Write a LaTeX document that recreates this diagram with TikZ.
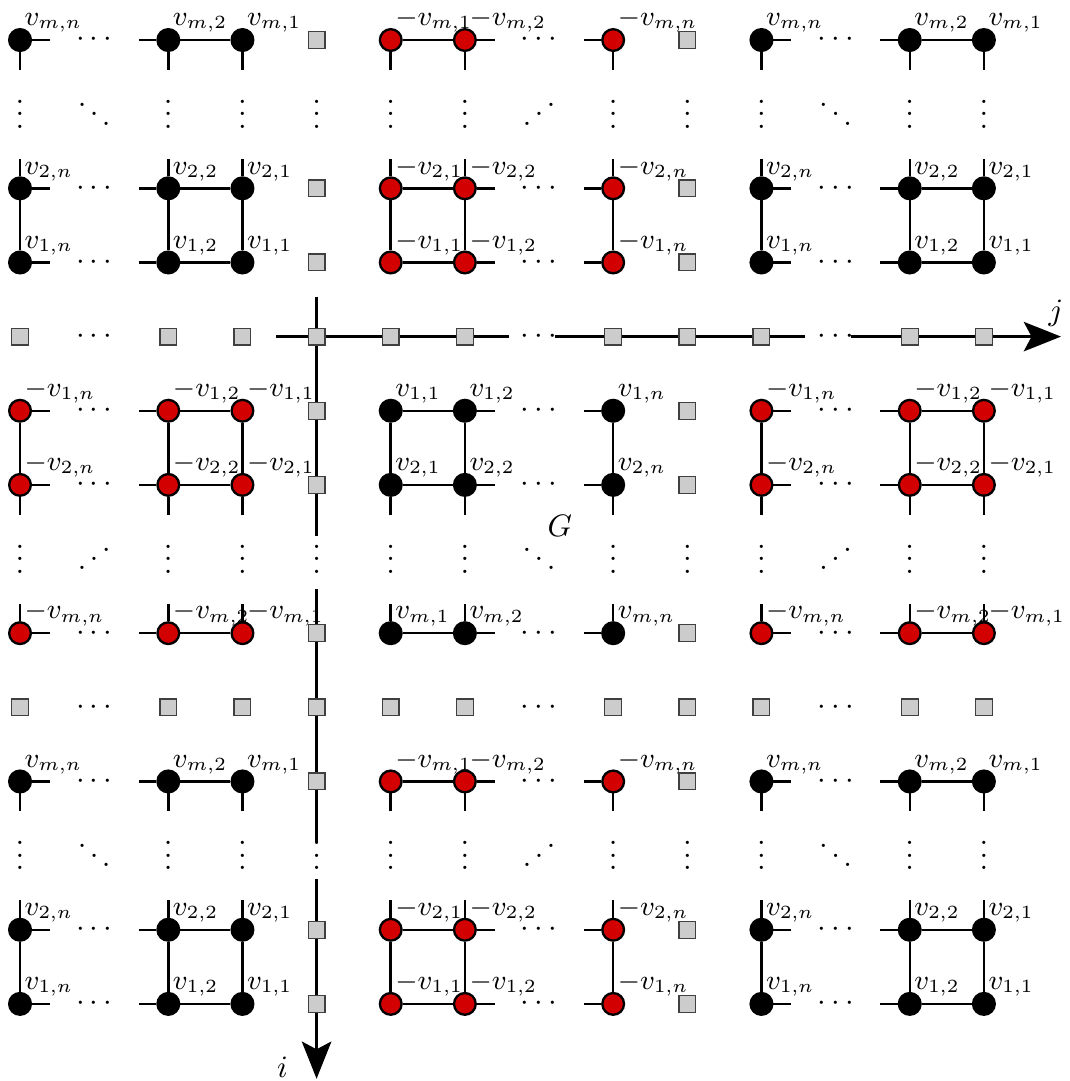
\documentclass[tikz,border=0pt]{standalone}
\usepackage{tikz}
\usepackage{graphicx}
\usetikzlibrary{arrows.meta,backgrounds}
\definecolor{negred}{RGB}{210,0,0}
\definecolor{sqgray}{RGB}{204,204,204}
\newcommand{\updots}{\reflectbox{$\ddots$}}

\begin{document}
\begin{tikzpicture}[x=0.84cm, y=-0.84cm,
    vtx/.style={circle, draw=black, line width=0.75pt, minimum size=7pt, inner sep=0pt},
    posv/.style={vtx, fill=black},
    negv/.style={vtx, fill=negred},
    sq/.style={rectangle, draw=black!75, fill=sqgray, line width=0.4pt, minimum size=5.4pt, inner sep=0pt},
    link/.style={line width=0.8pt},
    axis/.style={line width=0.8pt},
    vlab/.style={anchor=base west, inner sep=0pt, font=\small, xshift=1.3pt, yshift=4.6pt},
    dts/.style={inner sep=0pt},
    vdts/.style={inner sep=0pt, yshift=3pt}]

\useasboundingbox (-0.27,-0.54) rectangle (14.16,14.04);

% squares on the two sign lines
\foreach \c in {4,9}
  \foreach \r in {0,2,3,4,5,6,8,9,10,12,13}
    \node[sq] (s-\c-\r) at (\c,\r) {};
\foreach \r in {4,9}
  \foreach \c in {0,2,3,5,6,8,10,12,13}
    \node[sq] (s-\c-\r) at (\c,\r) {};
\foreach \c in {4,9}
  \foreach \r in {1,7,11}
    \node[vdts] (d-\c-\r) at (\c,\r) {$\vdots$};
\foreach \r in {4,9}
  \foreach \c in {1,7,11}
    \node[dts] (d-\c-\r) at (\c,\r) {$\cdots$};

% nine mirrored copies of the grid
\foreach \ox/\sx in {3/-1,5/1,13/-1}{
  \foreach \oy/\sy in {3/-1,5/1,13/-1}{
    \pgfmathtruncatemacro{\sgn}{\sx*\sy}
    \ifnum\sgn<0 \def\vst{negv}\def\mns{-}\else \def\vst{posv}\def\mns{}\fi
    \foreach \a/\da in {1/0,2/1,n/3}{
      \foreach \b/\db in {1/0,2/1,m/3}{
        \node[\vst] (v-\ox-\oy-\a-\b) at ({\ox+\sx*\da},{\oy+\sy*\db}) {};
        \node[vlab] (l-\ox-\oy-\a-\b) at (v-\ox-\oy-\a-\b) {$\mns v_{\b,\a}$};
      }
    }
    \foreach \b/\db in {1/0,2/1,m/3}
      \node[dts] (h-\ox-\oy-\b) at ({\ox+2*\sx},{\oy+\sy*\db}) {$\cdots$};
    \foreach \a/\da in {1/0,2/1,n/3}
      \node[vdts] (u-\ox-\oy-\a) at ({\ox+\sx*\da},{\oy+2*\sy}) {$\vdots$};
    \ifnum\sgn>0
      \node[vdts] (g-\ox-\oy) at ({\ox+2*\sx},{\oy+2*\sy}) {$\ddots$};
    \else
      \node[vdts] (g-\ox-\oy) at ({\ox+2*\sx},{\oy+2*\sy}) {\updots};
    \fi
    \begin{scope}[on background layer]
      \foreach \b in {1,2,m}{
        \draw[link] (v-\ox-\oy-1-\b) -- (v-\ox-\oy-2-\b);
        \draw[link] (v-\ox-\oy-2-\b) -- ++({0.4*\sx},0);
        \draw[link] (v-\ox-\oy-n-\b) -- ++({-0.4*\sx},0);
      }
      \foreach \a in {1,2,n}{
        \draw[link] (v-\ox-\oy-\a-1) -- (v-\ox-\oy-\a-2);
        \draw[link] (v-\ox-\oy-\a-2) -- ++(0,{0.4*\sy});
        \draw[link] (v-\ox-\oy-\a-m) -- ++(0,{-0.4*\sy});
      }
    \end{scope}
  }
}

% axes
\coordinate (j0) at (3.45,4);
\coordinate (j1) at (6.59,4);
\coordinate (j2) at (7.21,4);
\coordinate (j3) at (10.59,4);
\coordinate (j4) at (11.21,4);
\coordinate (j5) at (14.04,4);
\coordinate (i0) at (4,3.46);
\coordinate (i1) at (4,6.69);
\coordinate (i2) at (4,7.41);
\coordinate (i3) at (4,10.81);
\coordinate (i4) at (4,11.32);
\coordinate (i5) at (4,14.01);
\begin{scope}[on background layer]
  \draw[axis] (j0) -- (j1) (j2) -- (j3);
  \draw[axis, -{Stealth[length=12pt, width=9.5pt, inset=2.5pt]}] (j4) -- (j5);
  \draw[axis] (i0) -- (i1) (i2) -- (i3);
  \draw[axis, -{Stealth[length=12pt, width=9.5pt, inset=2.5pt]}] (i4) -- (i5);
\end{scope}

\node (jlab) at (13.97,3.69) {$j$};
\node (ilab) at (3.54,13.85) {$i$};
\node (glab) at (7.28,6.55) {$G$};
\end{tikzpicture}
\end{document}
